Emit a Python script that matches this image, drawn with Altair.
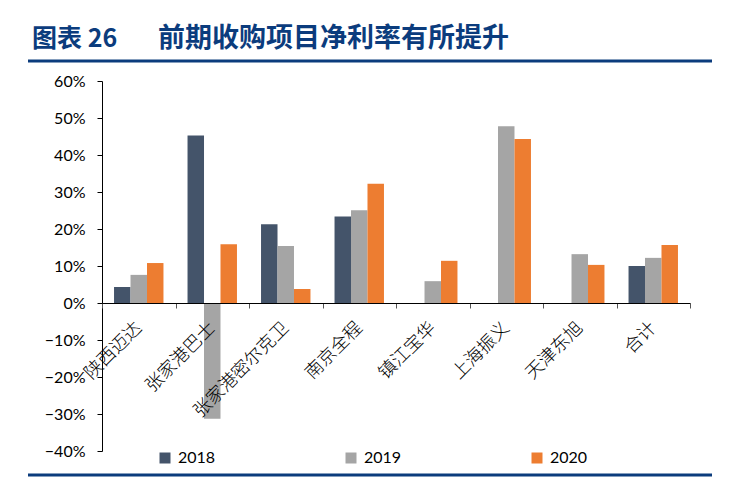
import altair as alt
import pandas as pd

categories = ["陕西迈达", "张家港巴士", "张家港密尔克卫", "南京全程", "镇江宝华", "上海振义", "天津东旭", "合计"]
years = ["2018", "2019", "2020"]
v2018 = [4.3, 45.3, 21.3, 23.4, None, None, None, 10.0]
v2019 = [7.6, -31.3, 15.4, 25.1, 5.9, 47.8, 13.2, 12.2]
v2020 = [10.8, 15.9, 3.8, 32.2, 11.4, 44.3, 10.3, 15.7]
colors = ["#44546A", "#A5A5A5", "#ED7D31"]
y_ticks = [-0.4, -0.3, -0.2, -0.1, 0, 0.1, 0.2, 0.3, 0.4, 0.5, 0.6]

title_a = "图表 26"
title_b = "前期收购项目净利率有所提升"

rows = []
for yr, vals in zip(years, [v2018, v2019, v2020]):
    for c, v in zip(categories, vals):
        if v is not None:
            rows.append({"项目": c, "年份": yr, "值": v / 100})
df = pd.DataFrame(rows)

W, H = 588, 370
blue = "#0B3C7D"

bars = alt.Chart(df).mark_bar().encode(
    x=alt.X("项目:N", sort=categories,
            scale=alt.Scale(paddingInner=0, paddingOuter=0),
            axis=alt.Axis(title=None, labelAngle=-45, labelAlign="right", labelBaseline="middle",
                          labelFont="Noto Sans CJK SC", labelFontSize=18, labelFontWeight=300,
                          labelColor="#000000",
                          labelPadding=17, tickBand="extent", tickSize=5, tickColor="#555555",
                          domainColor="#000000", offset=-148, labelOverlap=False, zindex=1)),
    xOffset=alt.XOffset("年份:N", sort=years, scale=alt.Scale(paddingInner=0, paddingOuter=0.73)),
    y=alt.Y("值:Q", scale=alt.Scale(domain=[-0.4, 0.6], nice=False),
            axis=alt.Axis(title=None, values=y_ticks, format=".0%", grid=False,
                          labelFont="Lato", labelFontSize=16, labelColor="#000000",
                          tickSize=5, tickColor="#000000", domainColor="#000000", labelPadding=12)),
    color=alt.Color("年份:N", sort=years, scale=alt.Scale(domain=years, range=colors),
                    legend=alt.Legend(title=None, orient="none", legendX=55, legendY=369,
                                      direction="horizontal", columnPadding=127,
                                      symbolType="square", symbolSize=121, symbolStrokeWidth=0,
                                      labelFont="Lato", labelFontSize=16, labelColor="#000000",
                                      labelOffset=5, padding=0)),
)

tdf_a = pd.DataFrame({"t": [title_a]})
tdf_b = pd.DataFrame({"t": [title_b]})
t1 = alt.Chart(tdf_a).mark_text(align="left", baseline="alphabetic", font="Noto Sans CJK SC",
                                fontSize=25, fontWeight="bold", color=blue).encode(
    x=alt.value(-70), y=alt.value(-34), text="t:N")
t2 = alt.Chart(tdf_b).mark_text(align="left", baseline="alphabetic", font="Noto Sans CJK SC",
                                fontSize=27, fontWeight="bold", color=blue).encode(
    x=alt.value(56), y=alt.value(-34), text="t:N")

rule_top = alt.Chart(tdf_a).mark_rule(color=blue, strokeWidth=3).encode(
    x=alt.value(-74), x2=alt.value(610), y=alt.value(-20))
rule_bot = alt.Chart(tdf_a).mark_rule(color=blue, strokeWidth=3).encode(
    x=alt.value(-74), x2=alt.value(610), y=alt.value(394))

chart = alt.layer(bars, rule_top, rule_bot, t1, t2).properties(
    width=W, height=H,
    autosize=alt.AutoSizeParams(type="none"),
    padding={"left": 94, "top": 73, "right": 47, "bottom": 26},
).configure_view(stroke=None)

chart.save("out.html", embed_options={"renderer": "svg", "actions": False})
